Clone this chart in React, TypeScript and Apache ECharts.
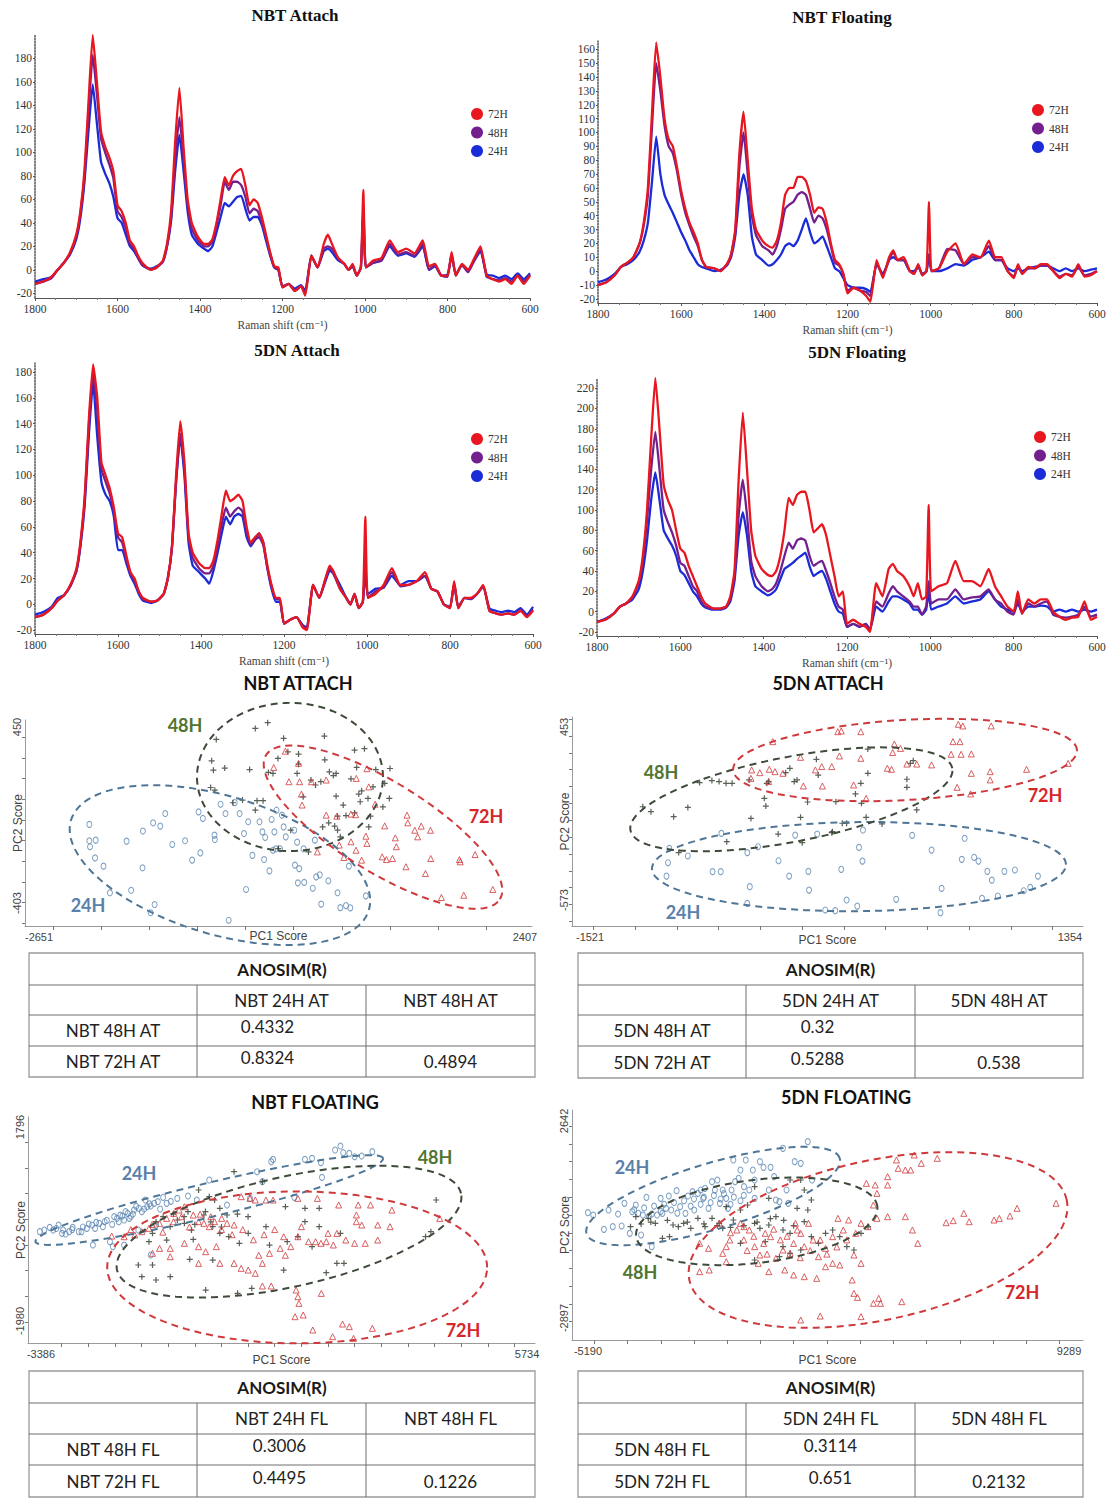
import React, { useEffect, useRef } from "react";
import * as echarts from "echarts";

// ---------------- Raman spectra data ----------------
const wavenumbers = [
  1800, 1780, 1760, 1745, 1730, 1715, 1700, 1690, 1680, 1670,
  1660, 1650, 1640, 1630, 1620, 1610, 1600, 1590, 1580, 1570,
  1560, 1550, 1540, 1520, 1505, 1490, 1480, 1470, 1460, 1450,
  1440, 1430, 1420, 1405, 1390, 1380, 1370, 1360, 1350, 1340,
  1330, 1320, 1310, 1300, 1290, 1280, 1270, 1260, 1250, 1240,
  1230, 1220, 1210, 1200, 1185, 1170, 1155, 1145, 1130, 1115,
  1100, 1090, 1080, 1065, 1050, 1040, 1030, 1020, 1010, 1004,
  998, 980, 960, 940, 920, 900, 880, 860, 845, 830,
  815, 800, 790, 780, 765, 750, 735, 720, 705, 690,
  675, 660, 645, 630, 615, 600,
];

const nbtAttach72 = [
  -12, -10, -6, 0, 6, 15, 30, 50, 85, 145,
  200, 160, 118, 105, 96, 84, 55, 50, 40, 25,
  20, 12, 6, 0, 2, 8, 22, 50, 110, 155,
  105, 60, 40, 28, 22, 22, 26, 40, 60, 79,
  72, 80, 84, 86, 72, 55, 60, 57, 45, 30,
  15, 3, 2, -15, -12, -18, -14, -22, 12, 2,
  22, 30, 22, 10, 5, 0, 5, -5, 2, 68,
  2, 8, 10, 25, 15, 18, 14, 25, 3, 5,
  -5, -5, 15, -5, 5, 0, 10, 20, -5, -8,
  -10, -8, -12, -5, -12, -5,
];
const nbtAttach48 = [
  -12, -10, -7, 0, 6, 14, 28, 48, 80, 135,
  183, 150, 112, 100, 90, 78, 50, 45, 36, 22,
  18, 10, 4, 0, 2, 7, 20, 45, 95, 130,
  95, 55, 35, 25, 20, 20, 24, 38, 55, 75,
  68, 75, 75, 72, 62, 48, 52, 50, 40, 28,
  14, 2, 0, -15, -12, -18, -14, -20, 12, 2,
  18, 20, 18, 10, 5, 0, 3, -5, 2, 55,
  2, 6, 8, 22, 13, 15, 12, 22, 0, 4,
  -5, -6, 14, -5, 4, -2, 8, 18, -6, -8,
  -9, -7, -10, -5, -10, -4,
];
const nbtAttach24 = [
  -10, -8, -6, 0, 6, 13, 26, 44, 75, 120,
  158, 125, 92, 82, 74, 62, 44, 40, 30, 20,
  16, 10, 4, 1, 3, 7, 20, 42, 85, 115,
  85, 50, 30, 22, 18, 16, 20, 32, 45, 57,
  54, 58, 62, 63, 52, 42, 45, 45, 38, 25,
  12, 2, 0, -14, -12, -16, -13, -18, 12, 2,
  16, 18, 15, 8, 5, 0, 3, -5, 2, 50,
  2, 6, 8, 20, 12, 14, 11, 20, 0, 3,
  -5, -4, 12, -4, 4, 0, 8, 16, -4, -5,
  -7, -5, -8, -3, -8, -3,
];

const nbtFloat72 = [
  -10, -8, -3, 3, 6, 10, 20, 35, 60, 115,
  165, 140, 110, 95, 90, 75, 58, 45, 35, 28,
  20, 8, 3, 2, 0, 5, 12, 30, 85, 115,
  80, 45, 30, 22, 18, 17, 22, 35, 55, 60,
  60, 68, 68, 65, 55, 42, 46, 45, 35, 20,
  8, 5, -2, -16, -12, -14, -18, -22, 8, -5,
  10, 15, 8, 10, 0, -2, 5, -3, 0, 50,
  0, 2, 14, 20, 5, 12, 10, 22, 10, 10,
  0, -5, 5, -2, 3, 2, 5, 5, 0, -5,
  -2, -4, 5, -4, -3, 0,
];
const nbtFloat48 = [
  -10, -8, -3, 3, 6, 10, 20, 33, 55, 105,
  150, 130, 105, 90, 85, 72, 55, 42, 33, 25,
  18, 8, 3, 2, 0, 5, 12, 28, 75, 100,
  70, 40, 26, 18, 15, 12, 18, 30, 45, 48,
  50, 55, 57, 55, 45, 35, 40, 38, 30, 18,
  6, 4, -2, -14, -12, -14, -15, -18, 6, -3,
  8, 14, 8, 8, 0, -2, 4, -3, 0, 12,
  0, 2, 16, 15, 5, 10, 10, 18, 8, 8,
  0, -4, 4, -2, 2, 2, 4, 4, 0, -4,
  -2, -3, 3, -3, -2, 0,
];
const nbtFloat24 = [
  -8, -6, -2, 3, 5, 8, 14, 22, 35, 65,
  97, 70, 55, 48, 42, 35, 28, 22, 15, 10,
  5, 3, 2, 0, 1, 4, 10, 25, 55, 70,
  55, 25, 12, 8, 4, 5, 8, 12, 18, 20,
  18, 22, 30, 38, 28, 20, 22, 25, 18, 10,
  2, 0, -5, -10, -12, -12, -13, -15, 5, -2,
  8, 10, 8, 8, 0, 0, 3, -2, 0, 12,
  0, 0, 2, 5, 4, 8, 10, 14, 8, 8,
  2, 0, 2, 0, 2, 3, 4, 4, 2, 0,
  2, 0, 2, 0, 1, 2,
];

const dnAttach72 = [
  -10, -8, -3, 3, 7, 15, 28, 50, 85, 145,
  186, 160, 110, 100, 90, 75, 55, 52, 38, 25,
  20, 10, 5, 2, 3, 8, 20, 45, 100, 142,
  110, 55, 40, 32, 28, 28, 34, 50, 70, 88,
  80, 82, 85, 80, 60, 48, 52, 55, 48, 30,
  15, 5, 5, -15, -12, -10, -18, -20, 15, 5,
  20, 30, 25, 12, 5, 0, 8, -3, 2, 68,
  5, 8, 15, 28, 15, 15, 18, 25, 12, 10,
  0, -3, 18, -3, 5, 5, 8, 15, -5, -7,
  -8, -7, -8, -5, -10, -5,
];
const dnAttach48 = [
  -10, -8, -3, 3, 7, 14, 26, 48, 82, 140,
  180, 150, 105, 95, 86, 72, 52, 48, 35, 24,
  18, 10, 4, 2, 3, 8, 20, 44, 95, 132,
  105, 52, 36, 28, 24, 24, 30, 45, 62, 75,
  68, 72, 75, 72, 56, 46, 50, 52, 46, 28,
  14, 4, 4, -15, -12, -10, -17, -19, 15, 5,
  20, 28, 23, 12, 5, 0, 8, -3, 2, 30,
  5, 10, 13, 25, 14, 15, 18, 22, 12, 10,
  0, -3, 16, -3, 5, 4, 8, 14, -5, -7,
  -8, -7, -8, -5, -9, -4,
];
const dnAttach24 = [
  -8, -6, -2, 5, 7, 14, 26, 46, 78, 132,
  172, 130, 95, 85, 80, 68, 42, 42, 32, 22,
  16, 8, 3, 1, 3, 8, 20, 44, 95, 130,
  100, 48, 30, 25, 20, 16, 26, 40, 55, 68,
  62, 68, 70, 68, 52, 45, 50, 55, 48, 28,
  12, 2, 2, -15, -12, -10, -16, -18, 15, 5,
  18, 26, 24, 15, 5, 0, 8, -3, 2, 25,
  8, 12, 13, 22, 15, 18, 18, 22, 12, 10,
  0, -2, 16, -2, 5, 4, 8, 14, -3, -5,
  -6, -5, -6, -3, -8, -2,
];

const dnFloat72 = [
  -10, -8, -2, 5, 8, 15, 30, 55, 100, 170,
  230, 180, 125, 110, 100, 80, 62, 58, 45, 35,
  25, 15, 8, 3, 3, 5, 15, 40, 130, 196,
  140, 80, 55, 42, 36, 35, 40, 55, 80, 112,
  105, 115, 118, 118, 100, 78, 82, 86, 75, 55,
  35, 15, 20, -12, -8, -12, -15, -20, 28, 15,
  42, 47, 40, 35, 25, 15, 28, 12, 15, 105,
  20, 25, 28, 50, 30, 30, 25, 42, 25, 15,
  5, 0, 20, -2, 12, 8, 12, 12, 0, -5,
  -8, -6, -5, 10, -8, -5,
];
const dnFloat48 = [
  -10, -8, -2, 5, 8, 14, 28, 50, 90, 140,
  177, 140, 100, 88, 78, 65, 48, 45, 35, 25,
  20, 10, 5, 3, 3, 5, 12, 35, 95, 130,
  95, 50, 35, 25, 20, 22, 28, 40, 55, 68,
  62, 70, 72, 70, 55, 45, 48, 50, 40, 28,
  15, 5, 2, -15, -12, -15, -12, -18, 10, 5,
  18, 25, 20, 15, 10, 5, 5, -3, 5, 30,
  8, 12, 12, 22, 12, 14, 15, 22, 12, 8,
  0, -3, 12, -2, 8, 5, 8, 10, -3, -5,
  -6, -5, -3, 5, -5, -3,
];
const dnFloat24 = [
  -10, -7, -2, 5, 8, 12, 22, 40, 70, 110,
  137, 110, 80, 72, 65, 55, 40, 36, 28, 20,
  15, 8, 4, 2, 2, 4, 10, 30, 75, 98,
  75, 40, 25, 20, 16, 18, 22, 32, 42, 45,
  48, 52, 55, 58, 45, 35, 38, 40, 32, 20,
  8, 0, -2, -15, -12, -15, -12, -18, 5, 0,
  10, 15, 15, 12, 8, 2, 2, -3, 2, 20,
  2, 5, 8, 15, 8, 10, 12, 20, 12, 5,
  2, 0, 8, 0, 5, 5, 6, 5, 0, 2,
  0, 2, 0, 2, 0, 2,
];

const spectraTitles = ["NBT Attach", "NBT Floating", "5DN Attach", "5DN Floating"];
const spectraSets = [
  [nbtAttach24, nbtAttach48, nbtAttach72],
  [nbtFloat24, nbtFloat48, nbtFloat72],
  [dnAttach24, dnAttach48, dnAttach72],
  [dnFloat24, dnFloat48, dnFloat72],
];
const groupNames = ["24H", "48H", "72H"];
const legendOrder = ["72H", "48H", "24H"];
const specYTicks = [
  [-20, 0, 20, 40, 60, 80, 100, 120, 140, 160, 180],
  [-20, -10, 0, 10, 20, 30, 40, 50, 60, 70, 80, 90, 100, 110, 120, 130, 140, 150, 160],
  [-20, 0, 20, 40, 60, 80, 100, 120, 140, 160, 180],
  [-20, 0, 20, 40, 60, 80, 100, 120, 140, 160, 180, 200, 220],
];
const specYRange = [
  [-24, 200],
  [-23, 166],
  [-23, 187],
  [-24, 230],
];

// ---------------- PCA scores ----------------
const nbtAttach24Pts = [
  [-2127, -22], [-2127, -101], [-2061, -98], [-2120, -130], [-2068, -184], [-1980, -224], [-1913, -353], [-1692, -341],
  [-1740, -103], [-1570, -54], [-1574, -232], [-1463, -14], [-1389, -30], [-1337, 31], [-1264, -119], [-1131, -101],
  [-1057, -195], [-972, -160], [-991, 39], [-946, 7], [-825, -74], [-821, -95], [-762, 76], [-710, 31], [-614, 84],
  [-518, -66], [-496, -337], [-430, -172], [-356, -9], [-326, -58], [-308, -192], [-297, -85], [-253, -247], [-230, 2],
  [-201, -58], [-186, -140], [-179, 47], [-123, 23], [-105, -34], [-83, -82], [6, -50], [35, -108], [13, -219], [57, -236],
  [43, -305], [109, -303], [198, -331], [234, -276], [271, -266], [286, -408], [360, -295], [456, -353], [485, -425],
  [544, -415], [589, -426], [574, -224], [751, -368], [-677, -486], [-1448, -410], [-1489, -450], [-216, -147],
  [-142, -140], [102, -140], [220, -98], [-563, 31], [-474, -9],
];
const nbtAttach48Pts = [
  [-854, 286], [-836, 241], [-718, 251], [-806, 390], [-865, 157], [-821, 144], [-400, 443], [-271, 471], [-105, 395],
  [-164, 298], [-61, 330], [50, 319], [50, 270], [35, 225], [98, 112], [179, 193], [282, 185], [319, 406], [323, 291],
  [371, 233], [412, 215], [441, 225], [441, 115], [456, 18], [596, 199], [633, 338], [655, 254], [677, 125], [692, 88],
  [736, 345], [773, 104], [854, 244], [947, 177], [1002, 249], [995, 104], [799, 18], [426, -30], [364, -14], [301, -34],
  [485, -82], [456, -50], [-382, 93], [-319, 93], [-400, 47], [-533, 96], [-633, 83], [-216, 225], [-264, 230],
  [-459, 244], [-31, -50], [-160, -139], [153, -155], [227, 169], [544, 21], [633, 34], [707, 141], [825, 160],
  [928, 63], [781, -34], [515, 72],
];
const nbtAttach72Pts = [
  [-87, 333], [50, 274], [-208, 254], [-50, 185], [61, 185], [183, 185], [80, 125], [87, 72], [338, 193], [651, 201],
  [762, 248], [781, 160], [847, 76], [596, 28], [644, 25], [449, 18], [338, 23], [947, -29], [751, -79], [762, -114],
  [596, -106], [474, -122], [707, -195], [648, -147], [921, -179], [1028, -187], [1068, -130], [1179, 23], [1187, -14],
  [1260, -50], [1290, -82], [1327, -30], [1423, -50], [1168, -227], [1371, -260], [1426, -187], [1537, -376],
  [1733, -203], [1725, -192], [1770, -365], [1888, -168], [2072, -337], [1057, -87], [965, -192], [522, -182], [246, -155],
];
const nbtAttachEllipses = [
  [-768, -219, 782, -437, -560, 101],
  [-39, 208, 929, 208, -39, 567],
  [929, -35, 2146, -384, 1175, 151],
];

const dnAttach24Pts = [
  [-1046, -267], [-1054, -352], [-1063, -431], [-935, -312], [-787, -405], [-738, -405], [-734, -178], [-579, -292],
  [-564, -494], [-579, -593], [-515, -257], [-392, -340], [-328, -431], [-292, -188], [-213, -403], [-209, -514],
  [-160, -182], [-112, -632], [-52, -636], [-16, -391], [16, -573], [80, -609], [90, -261], [111, -342], [114, -158],
  [313, -569], [409, -190], [525, -277], [578, -648], [585, -504], [706, -332], [780, -320], [806, -342], [723, -207],
  [827, -563], [859, -403], [886, -455], [922, -549], [961, -403], [1024, -395], [1077, -518], [1116, -498], [1162, -431],
];
const dnAttach48Pts = [
  [-1205, -20], [-1156, -49], [-1020, -79], [-935, -24], [-865, 123], [-791, 135], [-748, 129], [-706, 119], [-670, 119],
  [-568, 139], [-557, -89], [-462, 119], [-451, 129], [-477, 30], [-468, -16], [-349, 182], [-324, 208], [-298, 129],
  [-281, 139], [-260, -83], [-218, 8], [-165, 261], [-154, 168], [-69, -168], [-48, 10], [16, -118], [69, 56], [101, 119],
  [105, 0], [133, -83], [143, 322], [143, 178], [228, -122], [377, 143], [377, 95], [415, 253], [436, -39], [398, 237],
  [-702, -227], [-990, -292], [-394, -182], [-250, -233], [-73, -174], [-10, -118],
];
const dnAttach72Pts = [
  [-426, 366], [-553, 198], [-504, 182], [-447, 202], [-413, 188], [-366, 178], [-557, 148], [-451, 129], [-243, 103],
  [-129, 103], [-171, 198], [-133, 218], [-27, 281], [-37, 425], [-16, 429], [101, 425], [101, 267], [58, 109], [133, 30],
  [260, 208], [285, 202], [302, 352], [292, 301], [339, 326], [377, 233], [436, 233], [525, 228], [653, 366], [695, 366],
  [642, 291], [702, 291], [763, 293], [685, 469], [712, 459], [882, 459], [763, 178], [876, 188], [876, 139], [1094, 202],
  [1343, 237], [678, 95], [759, 56], [-260, 273], [-73, 218],
];
const dnAttachEllipses = [
  [90, -375, 1330, -363, 90, -111],
  [-315, 24, 649, 208, -363, 271],
  [366, 257, 1396, 316, 352, 494],
];

const nbtFloat24Pts = [
  [-3410, -241], [-3323, -209], [-3223, -157], [-3157, -209], [-3057, -112], [-2991, -274], [-2924, -287], [-2971, -209],
  [-2857, -241], [-2678, -241], [-2525, -177], [-2491, -92], [-2425, -112], [-2372, -177], [-2292, -79], [-2225, -144],
  [-2192, -47], [-2412, -501], [-2012, 51], [-1959, 18], [-1926, -47], [-1859, 64], [-1826, -14], [-1760, 115],
  [-1726, 18], [-1660, 102], [-1640, 180], [-1547, 213], [-1493, 148], [-1427, 375], [-1394, 245], [-1327, 258],
  [-1261, 310], [-1194, 343], [-1094, 427], [-1028, 310], [-828, 407], [-628, 453], [-462, 375], [-229, 764], [104, 278],
  [536, 407], [669, 926], [769, 732], [935, 1121], [969, 1166], [1368, 427], [1567, 1166], [1701, 1186], [1867, 1102],
  [1887, 816], [2133, 1348], [2233, 1426], [2286, 1296], [2399, 1283], [2499, 1218], [2632, 1231], [2832, 1316],
  [-2039, -533], [-1826, -501], [-1327, -696], [-2092, -436], [-1560, -209], [-1227, -112], [-2625, -241], [-2791, -157],
  [-3100, -180], [-2800, -200], [-2600, -150], [-2350, -60], [-2150, -20], [-2050, -100], [-1900, 80], [-1700, 60],
  [-1600, 250], [-1450, 200], [-1350, 300], [-1150, 200], [-950, 350], [-1800, 150],
];
const nbtFloat48Pts = [
  [237, 926], [769, 732], [-429, 570], [-229, 440], [-129, 375], [-30, 213], [104, 83], [-163, -144], [-562, -209],
  [-695, -79], [-828, -14], [-961, -144], [-1094, 51], [-1227, -47], [-1294, -274], [-30, -274], [137, -339], [336, -468],
  [503, -274], [836, -144], [1201, 245], [1567, 213], [1834, 213], [1567, -47], [1434, -339], [1834, -144], [2233, -274],
  [4029, 375], [3830, -339], [3930, -241], [2299, -858], [2166, -858], [1967, -1039], [1168, -988], [569, -1344],
  [303, -1442], [-296, -1377], [-961, -1117], [-1227, -1182], [-1493, -1117], [-1560, -890], [-1294, -890], [-595, -780],
  [-163, -793], [-628, 148], [-329, 83], [-529, -391], [-1028, -404], [-1360, -436], [902, -501], [1235, -436],
  [1701, -533], [-900, 100], [-700, 50], [-500, -100], [-300, 150], [-200, -50], [0, -150], [300, 100], [500, 50],
];
const nbtFloat72Pts = [
  [-2059, -326], [-1826, -339], [-1626, -306], [-1493, -241], [-1360, -177], [-1161, -79], [-1028, 18], [-895, 115],
  [-795, 180], [-695, 245], [-529, 83], [-429, -47], [-329, -79], [-229, -144], [-129, -47], [4, 18], [104, -79],
  [237, -112], [370, 440], [536, 407], [636, 375], [836, 375], [969, 375], [1434, 407], [1800, 407], [2200, 278],
  [2566, 278], [2798, 278], [3198, 180], [2532, 83], [2532, -47], [2632, -112], [2932, -112], [3164, -144], [1501, -144],
  [1434, -339], [1634, -436], [1767, -436], [1867, -468], [1967, -436], [2000, -274], [2166, -274], [2333, -404],
  [2100, -501], [2499, -468], [2699, -468], [2932, -404], [4096, 18], [-1161, -566], [-961, -566], [-695, -468],
  [-429, -533], [-296, -631], [-96, -533], [-30, -858], [237, -858], [370, -955], [503, -988], [636, -1052], [769, -858],
  [902, -663], [1102, -566], [1168, -339], [1301, -533], [1401, -1377], [1434, -1507], [1454, -1636], [1381, -1896],
  [1534, -1863], [1714, -2155], [1874, -1442], [2086, -2285], [2273, -2039], [2399, -2090], [2479, -2318], [2832, -2123],
  [769, -1299], [935, -1299], [-429, -858], [-961, -728], [-1294, -663], [-1700, -200], [-1300, -100], [-1100, -250],
  [-900, -50], [-750, 50], [-600, -150], [-400, 100], [-200, 50], [0, -200], [200, -300], [400, -200], [600, -400],
  [800, -300], [1000, -200], [1200, -700], [700, -700],
];
const nbtFloatEllipses = [
  [-229, 375, 3032, 1187, -304, 696],
  [1268, -241, 4496, 504, 1043, 804],
  [1421, -936, 4986, -936, 1421, 543],
];

const dnFloat24Pts = [
  [-5192, 64], [-5032, -1], [-4712, -404], [-4445, -329], [-4178, -310], [-4093, 327], [-3933, -517], [-3858, 93],
  [-3751, 280], [-3676, 46], [-3538, -1], [-3431, 496], [-3356, -29], [-3271, 27], [-3111, -1], [-3004, 467], [-2950, 46],
  [-2758, 533], [-2684, 139], [-2523, 683], [-2417, 233], [-2257, 46], [-2182, 533], [-2043, 655], [-1883, 608],
  [-1798, 702], [-1723, 467], [-1669, 749], [-1563, 186], [-1456, 936], [-1371, 702], [-1296, 983], [-1221, 327],
  [-1136, 702], [-1029, 467], [-976, 186], [-869, 702], [-762, 936], [-655, 1030], [-602, 1264], [-495, 795], [-442, 1545],
  [-335, 702], [-228, 1264], [-175, 983], [-15, 1498], [92, 1339], [252, 702], [305, 1339], [466, 421], [572, 374],
  [679, 1873], [786, 702], [839, 327], [1031, 1498], [1213, 1451], [1426, 2060], [1554, 983], [-3271, -891], [-3591, -563],
  [-4285, 27], [-4573, 139], [-2844, 186], [-1990, 139], [-815, 1545], [-175, 467], [412, 1077], [-3800, 150], [-3500, 200],
  [-3200, 250], [-2900, 300], [-2600, 350], [-2300, 400], [-2000, 450], [-1700, 500], [-1400, 550], [-1100, 600],
  [-800, 500], [-500, 550], [-3000, 100], [-2500, 50], [-2100, 250], [-1800, 300], [-1500, 350], [-1200, 450], [-900, 300],
  [-600, 400],
];
const dnFloat48Pts = [
  [-3911, -329], [-3751, -48], [-3591, -254], [-3377, -95], [-3164, -235], [-2950, -657], [-2737, -610], [-2630, -282],
  [-2470, -329], [-2310, -235], [-2096, -376], [-1883, -95], [-1669, -329], [-1456, -95], [-1242, -235], [-1029, 233],
  [-815, -142], [-602, 139], [-388, 280], [-175, -235], [-15, -376], [252, -282], [466, -48], [679, -423], [893, -517],
  [1106, 186], [1320, -189], [1426, 139], [1533, -610], [1747, -798], [1960, -517], [2174, -423], [2387, -610],
  [2601, -891], [2814, -985], [3028, -517], [3241, -329], [893, -1079], [679, -891], [145, -751], [-175, -1266],
  [-602, -798], [-1136, -376], [1320, 702], [1533, 421], [1213, 983], [893, 983], [252, 467], [-175, 795], [1213, -985],
  [572, -1173], [-3300, -200], [-2800, -150], [-2200, -200], [-1700, -250], [-1300, -300], [-900, -350], [-500, -300],
  [-100, -200], [300, -100], [700, -150], [1000, -300],
];
const dnFloat72Pts = [
  [-1830, -798], [-1563, -938], [-1830, -1594], [-1541, -1547], [-1242, -235], [-1136, -1079], [-1029, -891], [-922, -704],
  [-709, -423], [-602, -235], [-495, -329], [-335, -423], [-175, -891], [-15, -1126], [145, -517], [305, -610],
  [466, -1219], [679, -985], [893, -1079], [1053, -235], [1106, -423], [1213, -517], [1320, -891], [1448, -235],
  [1586, -704], [1747, -1173], [1960, -938], [2174, -610], [2334, -95], [2494, -423], [2654, -142], [2867, -517],
  [3028, -235], [3241, -329], [3401, 280], [3508, -95], [3828, -48], [4362, -48], [4575, -423], [4736, -798], [3188, 889],
  [3455, 842], [3828, 842], [3508, 608], [3828, 1077], [4095, 1545], [4362, 1264], [4629, 1686], [4842, 1451], [5323, 1592],
  [4148, 1311], [4522, 1264], [5590, -217], [5803, -160], [6123, 46], [6283, -189], [7031, -142], [7191, -95], [7511, -29],
  [7725, 186], [8899, 327], [3028, -1360], [2814, -1126], [2387, -1407], [2174, -1360], [1960, -1454], [1693, -1782],
  [1320, -1735], [999, -1688], [732, -1547], [252, -1594], [-68, -1360], [-1029, -1313], [2761, -1828], [2814, -2203],
  [2921, -2316], [3401, -2484], [3561, -2344], [3615, -2484], [4255, -2438], [3028, -2859], [1800, -2841], [1213, -2953],
  [-900, -500], [-500, -700], [-200, -600], [100, -800], [400, -400], [600, -700], [800, -600], [1000, -800],
  [1200, -1200], [1500, -1000], [1800, -700], [2000, -1100], [2300, -900], [2600, -700], [-400, -1000], [200, -1100],
];
const dnFloatEllipses = [
  [-1424, 533, 2387, 1593, -1707, 1421],
  [-111, -179, 3519, 243, -265, 979],
  [3540, -704, 9220, 421, 3040, 1494],
];

const pcaTitles = ["NBT ATTACH", "5DN ATTACH", "NBT FLOATING", "5DN FLOATING"];
const pcaPoints = [
  [nbtAttach24Pts, nbtAttach48Pts, nbtAttach72Pts],
  [dnAttach24Pts, dnAttach48Pts, dnAttach72Pts],
  [nbtFloat24Pts, nbtFloat48Pts, nbtFloat72Pts],
  [dnFloat24Pts, dnFloat48Pts, dnFloat72Pts],
];
const pcaEllipses = [nbtAttachEllipses, dnAttachEllipses, nbtFloatEllipses, dnFloatEllipses];
const pcaXLabels = [[-2651, 2407], [-1521, 1354], [-3386, 5734], [-5190, 9289]];
const pcaYLabels = [[-403, 450], [-573, 453], [-1980, 1796], [-2897, 2642]];
const pcaXRange = [[-2797, 2480], [-1629, 1432], [-3630, 5884], [-5672, 9710]];
const pcaYRange = [[-514, 484], [-727, 512], [-2408, 1991], [-3515, 2951]];
const pcaXTicks = [
  [-2500, -2000, -1500, -1000, -500, 0, 500, 1000, 1500, 2000],
  [-1500, -1250, -1000, -750, -500, -250, 0, 250, 500, 750, 1000, 1250],
  [-3000, -2500, -2000, -1500, -1000, -500, 0, 500, 1000, 1500, 2000, 2500, 3000, 3500, 4000, 4500, 5000, 5500],
  [-5000, -4000, -3000, -2000, -1000, 0, 1000, 2000, 3000, 4000, 5000, 6000, 7000, 8000, 9000],
];
const pcaYTicks = [
  [-500, -400, -300, -200, -100, 0, 100, 200, 300, 400],
  [-700, -600, -500, -400, -300, -200, -100, 0, 100, 200, 300, 400, 500],
  [-2000, -1500, -1000, -500, 0, 500, 1000, 1500],
  [-3000, -2500, -2000, -1500, -1000, -500, 0, 500, 1000, 1500, 2000, 2500],
];

// ---------------- ANOSIM tables ----------------
const anosimHeader = "ANOSIM(R)";
const anosimColHeads = [
  ["NBT 24H AT", "NBT 48H AT"],
  ["5DN 24H AT", "5DN 48H AT"],
  ["NBT 24H FL", "NBT 48H FL"],
  ["5DN 24H FL", "5DN 48H FL"],
];
const anosimRowHeads = [
  ["NBT 48H AT", "NBT 72H AT"],
  ["5DN 48H AT", "5DN 72H AT"],
  ["NBT 48H FL", "NBT 72H FL"],
  ["5DN 48H FL", "5DN 72H FL"],
];
const anosimValues = [
  [[0.4332, null], [0.8324, 0.4894]],
  [[0.32, null], [0.5288, 0.538]],
  [[0.3006, null], [0.4495, 0.1226]],
  [[0.3114, null], [0.651, 0.2132]],
];

// ---------------- layout / style ----------------
const SERIF = '"Liberation Serif","DejaVu Serif",serif';
const SANS = '"Liberation Sans",Arial,sans-serif';
const CAL = 'Lato,"Open Sans",sans-serif';
const specColors = ["#1b2bd8", "#73208e", "#e8171f"];
const pcaColors = ["#5a86b2", "#2f3a2d", "#d2383b"];
const ellipseColors = ["#4f7697", "#3e4a3a", "#d0393b"];
const labelColors = ["#5a80ab", "#4f7530", "#d4262b"];
const plain = (v: number) => String(v);

const specLayout = [
  { left: 35, top: 35, width: 495, height: 263, tx: 295, ty: 15, lx: 466, ly: 103 },
  { left: 598, top: 41, width: 499, height: 262, tx: 842, ty: 17, lx: 1027, ly: 99 },
  { left: 35, top: 363, width: 498, height: 271, tx: 297, ty: 350, lx: 466, ly: 428 },
  { left: 597, top: 378, width: 500, height: 258, tx: 857, ty: 352, lx: 1029, ly: 426 },
];
const pcaLayout = [
  { left: 25, top: 720, width: 507, height: 206, tx: 298, ty: 683, xGap: 4 },
  { left: 572, top: 717, width: 511, height: 209, tx: 828, ty: 683, xGap: 8 },
  { left: 28, top: 1117, width: 507, height: 226, tx: 315, ty: 1102, xGap: 11 },
  { left: 572, top: 1110, width: 511, height: 230, tx: 846, ty: 1097, xGap: 14 },
];
const pcaGroupLabelPos = [
  [[88, 905], [185, 725], [486, 816]],
  [[683, 912], [661, 772], [1045, 795]],
  [[139, 1173], [435, 1157], [463, 1330]],
  [[632, 1167], [640, 1272], [1022, 1292]],
];
const tableLayout = [
  { x: 29, y: 953, cols: [168, 169, 169], rows: [32, 30, 31, 31], dx: -14 },
  { x: 578, y: 953, cols: [168, 169, 168], rows: [32, 30, 31, 32], dx: -13 },
  { x: 29, y: 1371, cols: [168, 169, 169], rows: [32, 31, 31, 32], dx: -2 },
  { x: 578, y: 1371, cols: [168, 169, 168], rows: [32, 31, 31, 32], dx: 0 },
];

function txt(x: number, y: number, text: string, font: string, fill: string, align = "center") {
  return {
    type: "text",
    x,
    y,
    silent: true,
    style: { text, font, fill, textAlign: align, textVerticalAlign: "middle" },
  };
}

function buildTable(t: number) {
  const L = tableLayout[t];
  const els: any[] = [];
  const W = L.cols.reduce((a, b) => a + b, 0);
  const H = L.rows.reduce((a, b) => a + b, 0);
  const colX = [L.x, L.x + L.cols[0], L.x + L.cols[0] + L.cols[1], L.x + W];
  const rowY = [L.y];
  L.rows.forEach((h) => rowY.push(rowY[rowY.length - 1] + h));
  els.push({
    type: "rect",
    silent: true,
    shape: { x: L.x, y: L.y, width: W, height: H },
    style: { fill: "transparent", stroke: "#9a9a9a", lineWidth: 1.3 },
  });
  for (let r = 1; r < rowY.length - 1; r++) {
    els.push({
      type: "line",
      silent: true,
      shape: { x1: L.x, y1: rowY[r], x2: L.x + W, y2: rowY[r] },
      style: { stroke: "#6e6e6e", lineWidth: 1 },
    });
  }
  for (let c = 1; c < 3; c++) {
    els.push({
      type: "line",
      silent: true,
      shape: { x1: colX[c], y1: rowY[1], x2: colX[c], y2: rowY[4] },
      style: { stroke: "#6e6e6e", lineWidth: 1 },
    });
  }
  const cx = (c: number) => (colX[c] + colX[c + 1]) / 2;
  const cy = (r: number) => (rowY[r] + rowY[r + 1]) / 2;
  els.push(txt(L.x + W / 2, cy(0), anosimHeader, `bold 17px ${CAL}`, "#1a1a1a"));
  anosimColHeads[t].forEach((s, i) => els.push(txt(cx(i + 1), cy(1), s, `17px ${CAL}`, "#222")));
  anosimRowHeads[t].forEach((s, i) => els.push(txt(cx(0), cy(i + 2), s, `17px ${CAL}`, "#222")));
  anosimValues[t].forEach((row, i) =>
    row.forEach((v, j) => {
      if (v === null) return;
      const x = cx(j + 1) + (j === 0 ? L.dx : 0);
      const y = cy(i + 2) + (j === 0 ? -4 : 0);
      els.push(txt(x, y, String(v), `17px ${CAL}`, "#222"));
    })
  );
  return els;
}

function ellipseRender(colors: string[]) {
  return (params: any, api: any) => {
    const c = api.coord([api.value(0), api.value(1)]);
    const a = api.coord([api.value(2), api.value(3)]);
    const b = api.coord([api.value(4), api.value(5)]);
    const ux = a[0] - c[0], uy = a[1] - c[1];
    const vx = b[0] - c[0], vy = b[1] - c[1];
    const pts: number[][] = [];
    const n = 120;
    for (let k = 0; k <= n; k++) {
      const t = (k / n) * Math.PI * 2;
      pts.push([c[0] + ux * Math.cos(t) + vx * Math.sin(t), c[1] + uy * Math.cos(t) + vy * Math.sin(t)]);
    }
    return {
      type: "polyline",
      shape: { points: pts },
      style: { stroke: colors[params.dataIndex], lineWidth: 2, lineDash: [7, 5], fill: null },
    };
  };
}

function buildOption() {
  const grid: any[] = [];
  const xAxis: any[] = [];
  const yAxis: any[] = [];
  const series: any[] = [];
  const legend: any[] = [];
  const graphic: any[] = [];

  specLayout.forEach((L, p) => {
    grid.push({ left: L.left, top: L.top, width: L.width, height: L.height });
    xAxis.push({
      gridIndex: p,
      type: "value",
      min: 600,
      max: 1800,
      interval: 200,
      inverse: true,
      name: "Raman shift (cm⁻¹)",
      nameLocation: "middle",
      nameGap: 21,
      nameMoveOverlap: false,
      nameTextStyle: { fontFamily: SERIF, fontSize: 11.5, color: "#444" },
      axisLine: { onZero: false, lineStyle: { color: "#555", width: 1 } },
      axisTick: { length: 3, lineStyle: { color: "#555" } },
      minorTick: { show: true, splitNumber: 4, length: 2, lineStyle: { color: "#777" } },
      axisLabel: { fontFamily: SERIF, fontSize: 11.5, color: "#333", margin: 5, formatter: plain },
      splitLine: { show: false },
    });
    yAxis.push({
      gridIndex: p,
      type: "value",
      min: specYRange[p][0],
      max: specYRange[p][1],
      axisLine: { show: true, onZero: false, lineStyle: { color: "#555", type: "dotted", width: 1.5 } },
      axisTick: { show: true, length: 2, customValues: specYTicks[p], lineStyle: { color: "#555" } },
      axisLabel: { customValues: specYTicks[p], fontFamily: SERIF, fontSize: 11.5, color: "#333", margin: 3, formatter: plain },
      splitLine: { show: false },
    });
    spectraSets[p].forEach((vals, g) => {
      series.push({
        type: "line",
        name: groupNames[g],
        xAxisIndex: p,
        yAxisIndex: p,
        data: wavenumbers.map((w, i) => [w, vals[i]]),
        showSymbol: false,
        symbol: "none",
        smooth: 0.15,
        lineStyle: { width: 2.3, color: specColors[g] },
        itemStyle: { color: specColors[g] },
        silent: true,
        z: 2 + g,
      });
    });
    legend.push({
      orient: "vertical",
      left: L.lx,
      top: L.ly,
      icon: "circle",
      itemWidth: 12,
      itemHeight: 12,
      itemGap: 6.5,
      selectedMode: false,
      data: legendOrder,
      textStyle: { fontFamily: SERIF, fontSize: 11.5, color: "#333" },
    });
    graphic.push(txt(L.tx, L.ty, spectraTitles[p], `bold 17px ${SERIF}`, "#111"));
  });

  pcaLayout.forEach((L, q) => {
    const gi = 4 + q;
    grid.push({ left: L.left, top: L.top, width: L.width, height: L.height });
    xAxis.push({
      gridIndex: gi,
      type: "value",
      min: pcaXRange[q][0],
      max: pcaXRange[q][1],
      name: "PC1 Score",
      nameLocation: "middle",
      nameGap: L.xGap,
      nameMoveOverlap: false,
      nameTextStyle: { fontFamily: SANS, fontSize: 12, color: "#444" },
      axisLine: { onZero: false, lineStyle: { color: "#9a9a9a" } },
      axisTick: { customValues: pcaXTicks[q], length: 4, lineStyle: { color: "#777" } },
      axisLabel: { customValues: pcaXLabels[q], fontFamily: SANS, fontSize: 11, color: "#444", margin: 5, formatter: plain },
      splitLine: { show: false },
    });
    yAxis.push({
      gridIndex: gi,
      type: "value",
      min: pcaYRange[q][0],
      max: pcaYRange[q][1],
      name: "PC2 Score",
      nameLocation: "middle",
      nameGap: 1,
      nameRotate: 90,
      nameMoveOverlap: false,
      nameTextStyle: { fontFamily: SANS, fontSize: 12, color: "#444" },
      axisLine: { onZero: false, lineStyle: { color: "#9a9a9a" } },
      axisTick: { customValues: pcaYTicks[q], length: 3, lineStyle: { color: "#777" } },
      axisLabel: { customValues: pcaYLabels[q], rotate: 90, fontFamily: SANS, fontSize: 11, color: "#444", margin: 3, formatter: plain },
      splitLine: { show: false },
    });
    const [p24, p48, p72] = pcaPoints[q];
    series.push({
      type: "scatter",
      name: "PCA 24H",
      xAxisIndex: gi,
      yAxisIndex: gi,
      data: p24,
      symbol: "circle",
      symbolSize: [5, 6],
      silent: true,
      itemStyle: { color: "rgba(255,255,255,0)", borderColor: pcaColors[0], borderWidth: 1 },
      z: 3,
    });
    series.push({
      type: "scatter",
      name: "PCA 48H",
      xAxisIndex: gi,
      yAxisIndex: gi,
      data: p48,
      symbol: "path://M4,0H6V4H10V6H6V10H4V6H0V4H4Z",
      symbolSize: 6,
      silent: true,
      itemStyle: { color: pcaColors[1] },
      z: 4,
    });
    series.push({
      type: "scatter",
      name: "PCA 72H",
      xAxisIndex: gi,
      yAxisIndex: gi,
      data: p72,
      symbol: "triangle",
      symbolSize: 6,
      silent: true,
      itemStyle: { color: "rgba(255,255,255,0)", borderColor: pcaColors[2], borderWidth: 1 },
      z: 5,
    });
    series.push({
      type: "custom",
      name: "ellipses",
      xAxisIndex: gi,
      yAxisIndex: gi,
      data: pcaEllipses[q],
      renderItem: ellipseRender(ellipseColors),
      clip: false,
      silent: true,
      z: 6,
    });
    graphic.push(txt(L.tx, L.ty, pcaTitles[q], `bold 18px ${CAL}`, "#111"));
    pcaGroupLabelPos[q].forEach((pos, g) => {
      graphic.push(txt(pos[0], pos[1], groupNames[g], `bold 18px ${CAL}`, labelColors[g]));
    });
  });

  for (let t = 0; t < 4; t++) graphic.push(...buildTable(t));

  return {
    animation: false,
    backgroundColor: "#ffffff",
    grid,
    xAxis,
    yAxis,
    series,
    legend,
    graphic: { elements: graphic },
  };
}

export default function App() {
  const ref = useRef<HTMLDivElement>(null);
  useEffect(() => {
    document.body.style.margin = "0";
    if (!ref.current) return;
    const chart = echarts.init(ref.current, undefined, { renderer: "svg" });
    chart.setOption(buildOption() as any);
    return () => chart.dispose();
  }, []);
  return <div ref={ref} style={{ width: 1112, height: 1500, background: "#fff" }} />;
}
